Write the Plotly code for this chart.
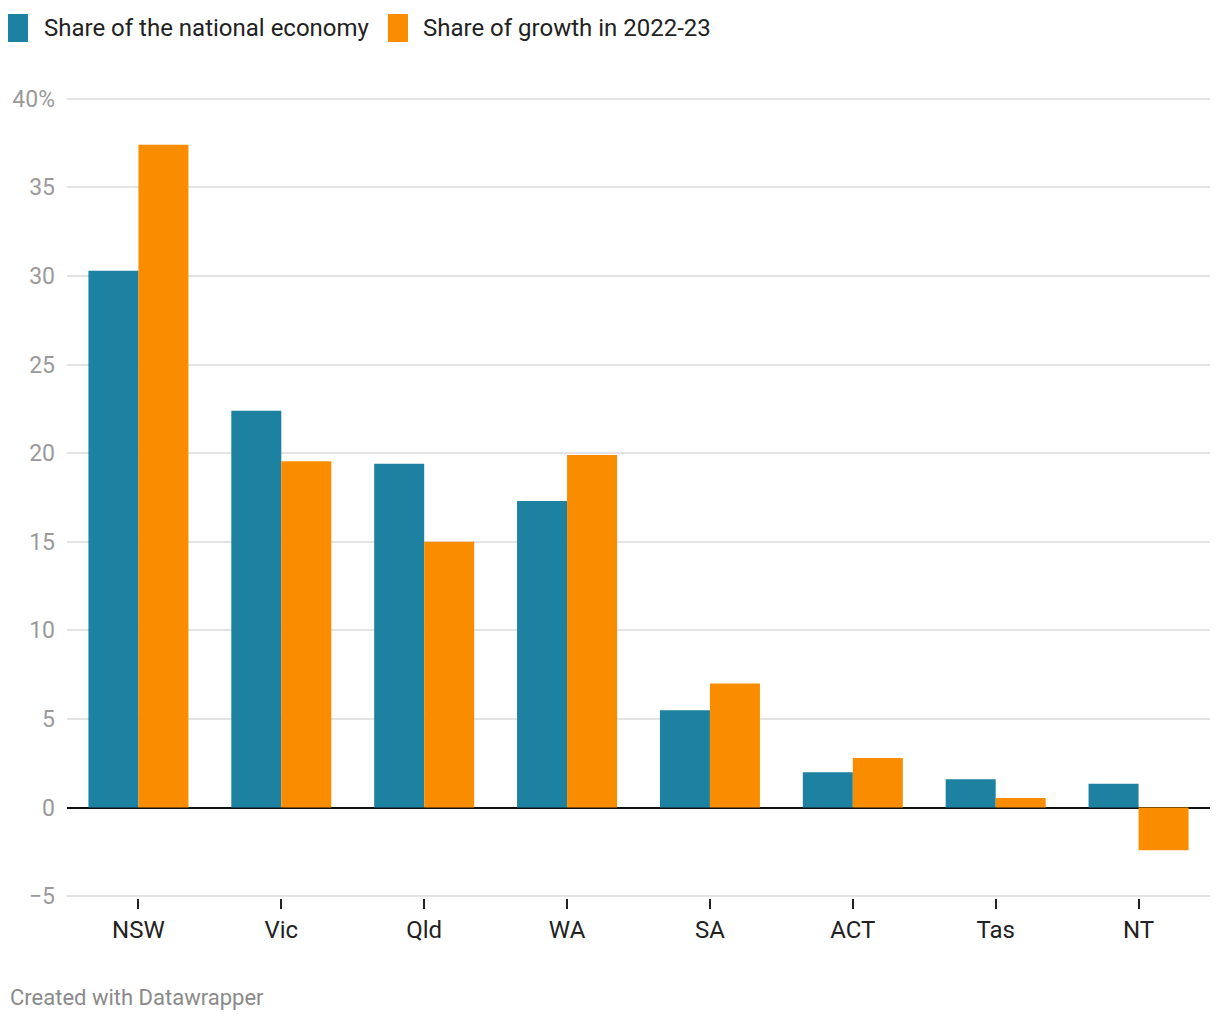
import plotly.graph_objects as go

states = ["NSW", "Vic", "Qld", "WA", "SA", "ACT", "Tas", "NT"]
share_economy = [30.3, 22.4, 19.4, 17.3, 5.5, 2.0, 1.6, 1.35]
share_growth = [37.4, 19.55, 15.0, 19.9, 7.0, 2.8, 0.55, -2.4]
series_names = ["Share of the national economy", "Share of growth in 2022-23"]
tick_vals = [-5, 0, 5, 10, 15, 20, 25, 30, 35, 40]
tick_text = ["−5", "0", "5", "10", "15", "20", "25", "30", "35", "40%"]

BLUE = "#1d81a2"
ORANGE = "#fa8c00"
FONT = "Roboto"

fig = go.Figure()
fig.add_trace(go.Bar(x=states, y=share_economy, name=series_names[0], marker_color=BLUE, marker_line_width=0))
fig.add_trace(go.Bar(x=states, y=share_growth, name=series_names[1], marker_color=ORANGE, marker_line_width=0))

# plot area on page: x 67..1210, y 97..898 (page has 8px body margin)
PX0, PX1, PY0, PY1 = 67, 1210, 97, 898
W, H = PX1 - PX0, PY1 - PY0

fig.update_layout(
    width=1204, height=1004,
    margin=dict(l=PX0 - 8, r=1204 - (PX1 - 8), t=PY0 - 8, b=1004 - (PY1 - 8)),
    barmode="group", bargap=0.3, bargroupgap=0,
    plot_bgcolor="white", paper_bgcolor="white",
    showlegend=False,
    font=dict(family=FONT, color="#222"),
)
fig.update_xaxes(
    range=[-0.5, 7.5], showgrid=False, showline=False, zeroline=False,
    ticks="outside", ticklen=10, tickwidth=2, tickcolor="#222",
    tickfont=dict(size=24, color="#222", family=FONT),
)
fig.update_yaxes(
    range=[-5.1, 40.1], tickvals=tick_vals, ticktext=tick_text,
    showgrid=True, gridcolor="#e3e3e3", gridwidth=2,
    zeroline=True, zerolinecolor="#111", zerolinewidth=2,
    showline=False, ticks="", ticklabelstandoff=11,
    tickfont=dict(size=23, color="#9a9a9a", family=FONT),
)

def px(x):
    return (x - PX0) / W

def py(y):
    return (PY1 - y) / H

# Legend drawn manually
legend_items = [(8, 44, BLUE, series_names[0]), (388, 423, ORANGE, series_names[1])]
for sx, tx, col, name in legend_items:
    fig.add_shape(type="rect", xref="paper", yref="paper",
                  x0=px(sx), x1=px(sx + 20), y0=py(42), y1=py(14),
                  fillcolor=col, line_width=0)
    fig.add_annotation(xref="paper", yref="paper", x=px(tx), y=py(28),
                       text=name, showarrow=False, xanchor="left", yanchor="middle",
                       xshift=-2, font=dict(size=24, color="#222", family=FONT))

fig.add_annotation(xref="paper", yref="paper", x=px(10), y=py(997),
                   text="Created with Datawrapper", showarrow=False, xanchor="left", yanchor="middle",
                   xshift=-2, font=dict(size=22, color="#8a8a8a", family=FONT))

fig.write_html("out.html")
